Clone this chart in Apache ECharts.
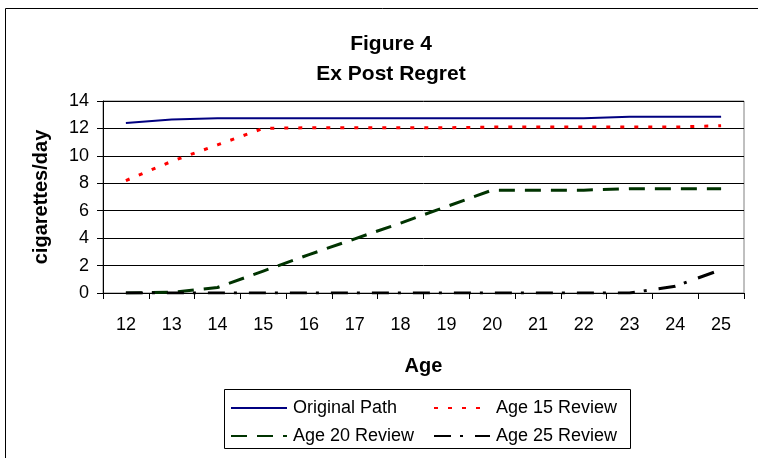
<!DOCTYPE html>
<html>
<head>
<meta charset="utf-8">
<script src="https://cdn.jsdelivr.net/npm/echarts@6/dist/echarts.min.js"></script>
<style>
    html, body { margin: 0; padding: 0; background: #fff; }
    #chart { width: 758px; height: 458px; }
</style>
</head>
<body>
<div id="chart"></div>
<script>
// values
var ages = ['12', '13', '14', '15', '16', '17', '18', '19', '20', '21', '22', '23', '24', '25'];
var originalPath = [12.4, 12.65, 12.75, 12.75, 12.75, 12.75, 12.75, 12.75, 12.75, 12.75, 12.75, 12.85, 12.85, 12.85];
var age15Review = [8.2, 9.6, 10.8, 12.0, 12.05, 12.05, 12.05, 12.05, 12.1, 12.1, 12.1, 12.1, 12.1, 12.2];
var age20Review = [0, 0.05, 0.4, 1.6, 2.8, 3.95, 5.1, 6.3, 7.5, 7.5, 7.5, 7.6, 7.6, 7.6];
var age25Review = [0, 0, 0, 0, 0, 0, 0, 0, 0, 0, 0, 0, 0.5, 1.7];

var font = 'Liberation Sans, Arial, sans-serif';

var myChart = echarts.init(document.getElementById('chart'));

function legendItem(name, left, top) {
    return {
        data: [name],
        left: left,
        top: top,
        padding: 0,
        itemWidth: 56,
        itemHeight: 14,
        selectedMode: false,
        itemStyle: { opacity: 0 },
        textStyle: { fontFamily: font, fontSize: 18, color: '#000', padding: [0, 0, 0, 1] }
    };
}

myChart.setOption({
    animation: false,
    title: {
        text: 'Figure 4\nEx Post Regret',
        left: 386,
        textAlign: 'center',
        top: 24,
        textStyle: {
            fontFamily: font,
            fontSize: 21,
            fontWeight: 'bold',
            lineHeight: 30,
            color: '#000'
        }
    },
    legend: [
        legendItem('Original Path', 230, 399),
        legendItem('Age 15 Review', 433, 399),
        legendItem('Age 20 Review', 230, 427),
        legendItem('Age 25 Review', 433, 427)
    ],
    graphic: [
        {
            type: 'rect',
            shape: { x: 5.5, y: 8.5, width: 800, height: 500 },
            style: { fill: 'none', stroke: '#000', lineWidth: 1 },
            silent: true
        },
        {
            type: 'rect',
            shape: { x: 224.5, y: 389.5, width: 406, height: 59 },
            style: { fill: 'none', stroke: '#000', lineWidth: 1 },
            silent: true
        }
    ],
    grid: {
        left: 103,
        right: 14,
        top: 101,
        bottom: 165,
        show: true,
        borderColor: '#808080',
        borderWidth: 1
    },
    xAxis: {
        type: 'category',
        data: ages,
        name: 'Age',
        nameLocation: 'middle',
        nameGap: 63,
        nameTextStyle: { fontFamily: font, fontSize: 20, fontWeight: 'bold', color: '#000' },
        axisLine: { lineStyle: { color: '#000', width: 1 } },
        axisTick: { show: true, length: 6, lineStyle: { color: '#000' } },
        axisLabel: { fontFamily: font, fontSize: 18, color: '#000', margin: 23 }
    },
    yAxis: {
        type: 'value',
        min: 0,
        max: 14,
        interval: 2,
        name: 'cigarettes/day',
        nameLocation: 'middle',
        nameGap: 52,
        nameTextStyle: { fontFamily: font, fontSize: 20, fontWeight: 'bold', color: '#000' },
        axisLine: { show: true, lineStyle: { color: '#000', width: 1 } },
        axisTick: { show: true, length: 6, lineStyle: { color: '#000' } },
        axisLabel: { fontFamily: font, fontSize: 18, color: '#000', margin: 14 },
        splitLine: { show: true, lineStyle: { color: '#000', width: 1 } }
    },
    series: [
        {
            name: 'Original Path',
            type: 'line',
            data: originalPath,
            symbol: 'none',
            lineStyle: { color: '#000080', width: 2 },
            itemStyle: { color: '#000080' }
        },
        {
            name: 'Age 15 Review',
            type: 'line',
            data: age15Review,
            symbol: 'none',
            lineStyle: { color: '#ff0000', width: 3, type: [4, 10] },
            itemStyle: { color: '#ff0000' }
        },
        {
            name: 'Age 20 Review',
            type: 'line',
            data: age20Review,
            symbol: 'none',
            lineStyle: { color: '#003300', width: 3, type: [16, 10] },
            itemStyle: { color: '#003300' }
        },
        {
            name: 'Age 25 Review',
            type: 'line',
            data: age25Review,
            symbol: 'none',
            lineStyle: { color: '#000', width: 3, type: [17, 9, 3, 12] },
            itemStyle: { color: '#000' }
        }
    ]
});
</script>
</body>
</html>
